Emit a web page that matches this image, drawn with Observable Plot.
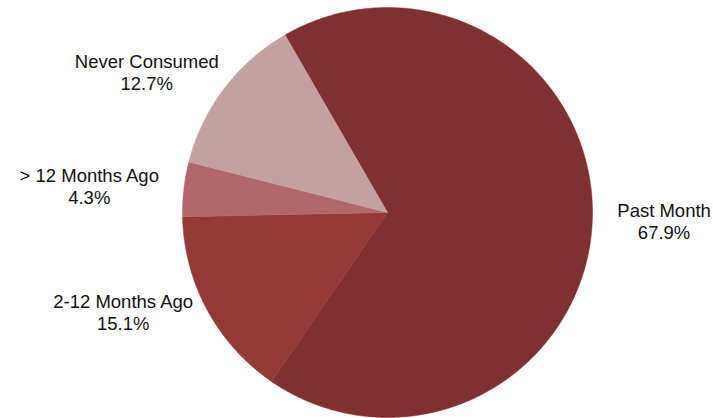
<!DOCTYPE html>
<html>
<head>
<meta charset="utf-8">
<script src="https://cdn.jsdelivr.net/npm/d3@7"></script>
<script src="https://cdn.jsdelivr.net/npm/@observablehq/plot@0.6"></script>
<style>
  html, body { margin: 0; padding: 0; background: #fff; }
  #chart svg { display: block; }
</style>
</head>
<body>
<div id="chart"></div>
<script>
// ---- data ----
const categories = ["Past Month", "2-12 Months Ago", "> 12 Months Ago", "Never Consumed"];
const values = [67.9, 15.1, 4.3, 12.7];
const percentLabels = ["67.9%", "15.1%", "4.3%", "12.7%"];
const colors = ["#80302f", "#933a37", "#b0686a", "#c4a1a1"];

// ---- layout ----
const W = 713, H = 418;
const cx = 387, cy = 212, R = 205;
const startDeg = -30;
const fontSize = 18.5, lineGap = 22, gapX = 25, gapY = 5;
const fontFamily = "'Liberation Sans', Arial, Helvetica, sans-serif";

const pie = d3.pie().sort(null).value(d => d.value)
  .startAngle(startDeg * Math.PI / 180)
  .endAngle((startDeg + 360) * Math.PI / 180);
const arcs = pie(categories.map((c, i) => ({category: c, value: values[i], pct: percentLabels[i]})));

// slice polygons
const polys = [];
for (const a of arcs) {
  const n = Math.max(4, Math.ceil((a.endAngle - a.startAngle) / 0.005));
  polys.push({category: a.data.category, x: cx, y: cy});
  for (let k = 0; k <= n; k++) {
    const t = a.startAngle + (a.endAngle - a.startAngle) * k / n;
    polys.push({category: a.data.category, x: cx + R * Math.sin(t), y: cy - R * Math.cos(t)});
  }
  polys.push({category: a.data.category, x: cx, y: cy});
}

// label positions (outside end)
const ctx = document.createElement("canvas").getContext("2d");
ctx.font = `${fontSize}px ${fontFamily}`;
const labels = arcs.map(a => {
  const m = (a.startAngle + a.endAngle) / 2;
  const s = Math.sin(m), c = -Math.cos(m);
  const text = a.data.category + "\n" + a.data.pct;
  const w = Math.max(...text.split("\n").map(t => ctx.measureText(t).width));
  const h = 2 * lineGap;
  const x = cx + s * (R + gapX + w / 2);
  const y = cy + c * (R + gapY) + (c < 0 ? c * h / 2 : 0);
  return {text, x, y};
});

const chart = Plot.plot({
  width: W, height: H,
  margin: 0,
  x: {domain: [0, W], range: [0, W], axis: null},
  y: {domain: [0, H], range: [0, H], axis: null},
  color: {domain: categories, range: colors},
  style: {background: "#fff", fontFamily},
  marks: [
    Plot.line(polys, {x: "x", y: "y", z: "category", fill: "category", stroke: "category", strokeWidth: 0.5, curve: "linear"}),
    Plot.text(labels, {x: "x", y: "y", text: "text", fontSize, lineHeight: lineGap / fontSize, textAnchor: "middle", lineAnchor: "middle", fill: "#111"})
  ]
});
document.getElementById("chart").appendChild(chart);
</script>
</body>
</html>
